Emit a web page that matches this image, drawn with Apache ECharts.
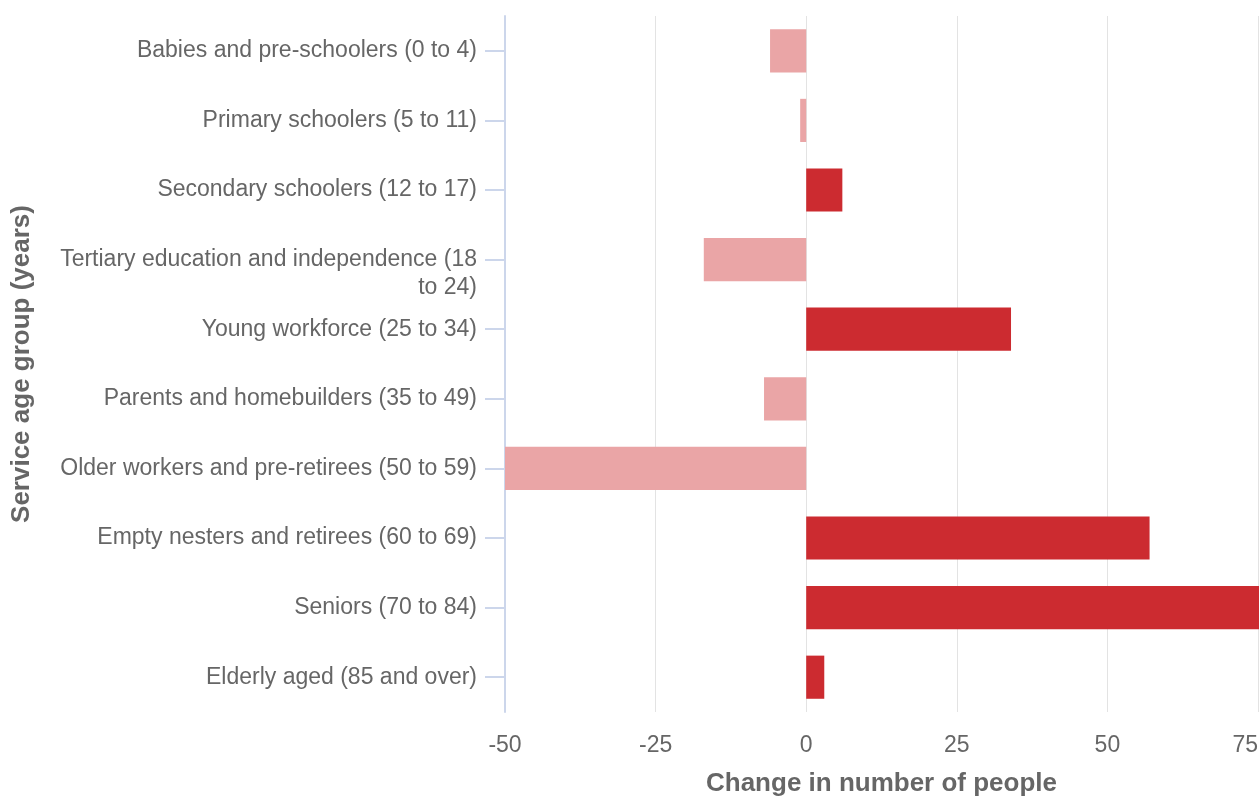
<!DOCTYPE html>
<html>
<head>
<meta charset="utf-8">
<script src="https://cdn.jsdelivr.net/npm/echarts@6/dist/echarts.min.js"></script>
<style>
  html, body { margin: 0; padding: 0; background: #ffffff; }
  #chart { width: 1259px; height: 796px; }
</style>
</head>
<body>
<div id="chart"></div>
<script>
const categories = [
  'Babies and pre-schoolers (0 to 4)',
  'Primary schoolers (5 to 11)',
  'Secondary schoolers (12 to 17)',
  'Tertiary education and independence (18 to 24)',
  'Young workforce (25 to 34)',
  'Parents and homebuilders (35 to 49)',
  'Older workers and pre-retirees (50 to 59)',
  'Empty nesters and retirees (60 to 69)',
  'Seniors (70 to 84)',
  'Elderly aged (85 and over)'
];
const changeValues = [-6, -1, 6, -17, 34, -7, -50, 57, 76, 3];
const xTicks = [-50, -25, 0, 25, 50, 75];

const POS = '#cc2b30';
const NEG = '#eaa5a6';
const FONT = '"Liberation Sans", Arial, Helvetica, sans-serif';

function wrapLabel(v) {
  if (v.length <= 42) return v;
  const cut = v.lastIndexOf(' ', 40);
  return '\n' + v.slice(0, cut) + '\n' + v.slice(cut + 1);
}

const chart = echarts.init(document.getElementById('chart'));
chart.setOption({
  animation: false,
  backgroundColor: '#ffffff',
  grid: { left: 505, right: 1, top: 16, bottom: 84, containLabel: false, outerBoundsMode: 'none' },
  xAxis: {
    type: 'value',
    min: xTicks[0],
    max: xTicks[xTicks.length - 1],
    interval: 25,
    axisLine: { show: false },
    axisTick: { show: false },
    splitLine: { show: true, lineStyle: { color: '#e3e3e3', width: 1 } },
    axisLabel: { color: '#666666', fontSize: 23, fontFamily: FONT, margin: 22, alignMaxLabel: 'right' },
    name: 'Change in number of people',
    nameLocation: 'middle',
    nameGap: 59,
    nameTextStyle: { color: '#666666', fontSize: 26, fontWeight: 'bold', fontFamily: FONT }
  },
  yAxis: {
    type: 'category',
    data: categories,
    inverse: true,
    axisLine: { show: true, onZero: false, lineStyle: { color: '#ccd6eb', width: 2 } },
    axisTick: { show: true, alignWithLabel: true, length: 20, lineStyle: { color: '#ccd6eb', width: 2 } },
    splitLine: { show: false },
    axisLabel: {
      color: '#666666', fontSize: 23, fontFamily: FONT, margin: 28, lineHeight: 28,
      formatter: wrapLabel
    },
    name: 'Service age group (years)',
    nameLocation: 'middle',
    nameGap: 470,
    nameRotate: 90,
    nameTextStyle: { color: '#666666', fontSize: 26, fontWeight: 'bold', fontFamily: FONT }
  },
  series: [{
    type: 'bar',
    data: changeValues.map(v => ({ value: v, itemStyle: { color: v >= 0 ? POS : NEG } })),
    barCategoryGap: '38%',
    clip: false
  }]
});
</script>
</body>
</html>
